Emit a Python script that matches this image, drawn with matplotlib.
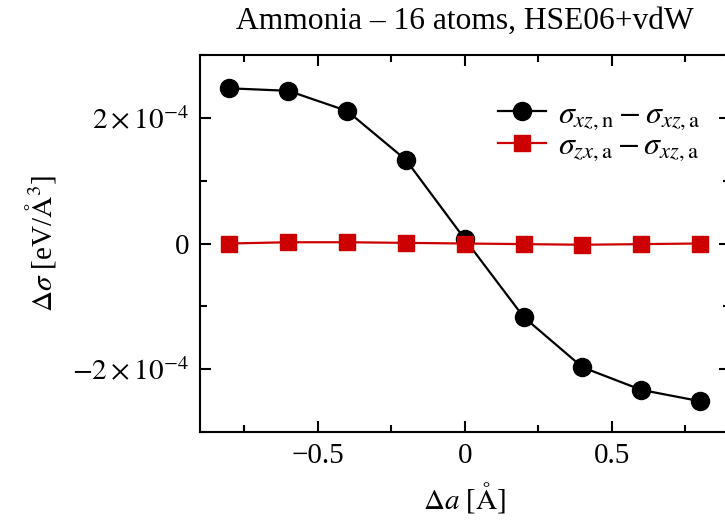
import matplotlib
matplotlib.use("Agg")
import matplotlib.pyplot as plt
from matplotlib.ticker import MultipleLocator, FuncFormatter

plt.rcParams["font.family"] = ["Liberation Serif", "DejaVu Serif"]
plt.rcParams["mathtext.fontset"] = "stix"
plt.rcParams["font.size"] = 20

# Lattice change and stress differences
delta_a = [-0.8, -0.6, -0.4, -0.2, 0.0, 0.2, 0.4, 0.6, 0.8]
sigma_n_minus_a = [2.47e-4, 2.43e-4, 2.11e-4, 1.33e-4, 0.07e-4,
                   -1.17e-4, -1.97e-4, -2.33e-4, -2.51e-4]
sigma_zx_minus_xz = [0.0, 0.02e-4, 0.02e-4, 0.01e-4, 0.0,
                     -0.01e-4, -0.02e-4, -0.01e-4, 0.0]

title = "Ammonia – 16 atoms, HSE06+vdW"
label_black = r"$\sigma_{xz,\mathrm{n}}-\sigma_{xz,\mathrm{a}}$"
label_red = r"$\sigma_{zx,\mathrm{a}}-\sigma_{xz,\mathrm{a}}$"

fig = plt.figure(figsize=(7.25, 5.25), dpi=100)
ax = fig.add_axes([200 / 725, 1 - 432 / 525, 529.6 / 725, 377 / 525])

ax.plot(delta_a, sigma_n_minus_a, color="black", marker="o", markersize=13,
        linewidth=1.6, label=label_black)
ax.plot(delta_a, sigma_zx_minus_xz, color="#cc0000", marker="s", markersize=12,
        linewidth=1.6, label=label_red)

ax.set_xlim(-0.9, 0.9)
ax.set_ylim(-3e-4, 3e-4)
ax.xaxis.set_major_locator(MultipleLocator(0.5))
ax.xaxis.set_minor_locator(MultipleLocator(0.25))
ax.yaxis.set_major_locator(MultipleLocator(2e-4))
ax.yaxis.set_minor_locator(MultipleLocator(1e-4))


def xfmt(v, pos):
    if abs(v) < 1e-9:
        return "0"
    return ("\u2212" if v < 0 else "") + f"{abs(v):g}"


def yfmt(v, pos):
    if abs(v) < 1e-12:
        return "0"
    m = v / 1e-4
    sign = "-" if m < 0 else ""
    return rf"${sign}{abs(m):.0f}\times10^{{-4}}$"


ax.xaxis.set_major_formatter(FuncFormatter(xfmt))
ax.yaxis.set_major_formatter(FuncFormatter(yfmt))

ax.tick_params(which="both", direction="in", top=True, right=True, width=1.5,
               labelsize=21)
ax.tick_params(which="major", length=8, pad=8)
ax.tick_params(which="minor", length=5)
for s in ax.spines.values():
    s.set_linewidth(1.5)

ax.set_xlabel(r"$\Delta a$ [$\mathrm{\AA}$]", fontsize=21, labelpad=8)
ax.set_ylabel(r"$\Delta\sigma$ [eV/$\mathrm{\AA}^3$]", fontsize=21, labelpad=10)
ax.set_title(title, fontsize=22.7, pad=19)

ax.legend(loc="upper left", bbox_to_anchor=(0.563, 0.88), frameon=False,
          fontsize=23, handlelength=1.5, labelspacing=0.0, handletextpad=0.37,
          borderpad=0, borderaxespad=0)

fig.savefig("out.png", dpi=100)
